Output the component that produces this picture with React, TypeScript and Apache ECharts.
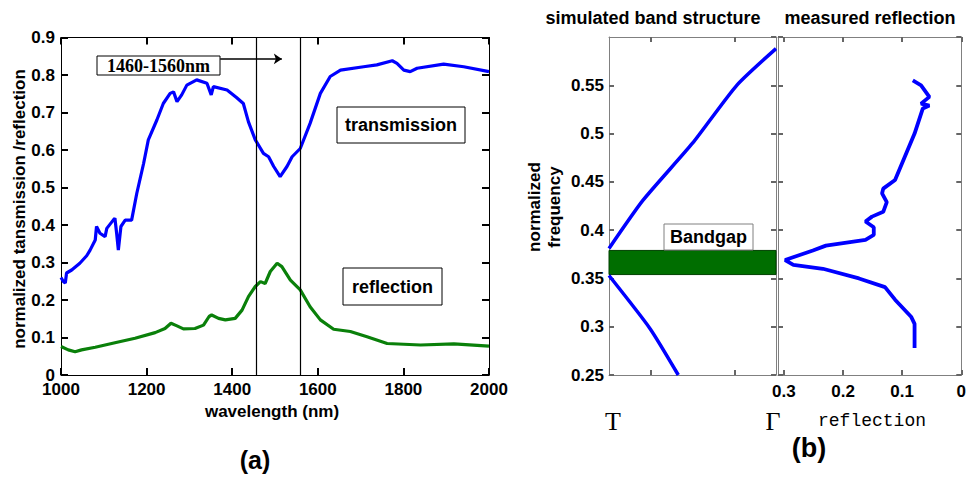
import React, { useEffect, useRef } from "react";
import * as echarts from "echarts";

// ---------- Panel (a): spectra ----------
const wlT = [1000, 1005, 1010, 1013, 1025, 1044, 1060, 1068, 1080, 1083, 1091, 1103, 1107, 1122, 1126, 1130, 1134, 1140, 1150, 1165, 1177, 1193, 1204, 1224, 1239, 1255, 1263, 1271, 1282, 1294, 1317, 1341, 1351, 1356, 1388, 1410, 1426, 1438, 1454, 1473, 1485, 1497, 1512, 1528, 1540, 1559, 1582, 1606, 1629, 1653, 1707, 1738, 1774, 1785, 1801, 1816, 1832, 1894, 1941, 2000];
const transmission = [0.26, 0.25, 0.245, 0.272, 0.28, 0.298, 0.318, 0.333, 0.36, 0.396, 0.378, 0.369, 0.391, 0.413, 0.418, 0.378, 0.333, 0.396, 0.413, 0.413, 0.484, 0.564, 0.627, 0.68, 0.724, 0.751, 0.755, 0.729, 0.747, 0.773, 0.787, 0.778, 0.747, 0.769, 0.76, 0.74, 0.724, 0.675, 0.627, 0.591, 0.582, 0.556, 0.529, 0.556, 0.582, 0.604, 0.671, 0.751, 0.796, 0.813, 0.822, 0.827, 0.838, 0.831, 0.813, 0.809, 0.818, 0.829, 0.822, 0.809];

const wlR = [1000, 1017, 1033, 1048, 1080, 1126, 1173, 1220, 1243, 1257, 1271, 1286, 1313, 1333, 1346, 1352, 1368, 1384, 1407, 1423, 1438, 1454, 1466, 1477, 1489, 1505, 1516, 1536, 1559, 1582, 1606, 1637, 1676, 1715, 1762, 1840, 1918, 2000];
const reflectionA = [0.076, 0.067, 0.062, 0.067, 0.074, 0.086, 0.098, 0.113, 0.124, 0.138, 0.131, 0.123, 0.124, 0.133, 0.156, 0.16, 0.151, 0.147, 0.151, 0.173, 0.209, 0.236, 0.249, 0.244, 0.276, 0.298, 0.289, 0.253, 0.227, 0.182, 0.147, 0.122, 0.116, 0.102, 0.084, 0.08, 0.083, 0.077];

const bandEdges = [1457, 1560];
const arrowFrom = [1372, 0.843];
const arrowTo = [1516, 0.843];

// ---------- Panel (b): band structure ----------
const upperK = [0, 0.204, 0.5, 0.765, 1];
const upperF = [0.381, 0.431, 0.49, 0.55, 0.588];
const lowerK = [0, 0.246, 0.415];
const lowerF = [0.353, 0.298, 0.25];
const gapLow = 0.354;
const gapHigh = 0.379;
const bandTicks = [0.25, 0.75];

// ---------- Panel (b): measured reflection ----------
const measRefl = [0.082, 0.068, 0.054, 0.068, 0.054, 0.065, 0.079, 0.0955, 0.112, 0.132, 0.134, 0.126, 0.132, 0.151, 0.162, 0.148, 0.148, 0.162, 0.229, 0.251, 0.298, 0.284, 0.234, 0.173, 0.129, 0.112, 0.0845, 0.079, 0.079];
const measFreq = [0.555, 0.55, 0.538, 0.531, 0.529, 0.526, 0.5, 0.476, 0.452, 0.443, 0.438, 0.429, 0.419, 0.414, 0.409, 0.403, 0.395, 0.39, 0.384, 0.379, 0.369, 0.364, 0.36, 0.35, 0.341, 0.328, 0.31, 0.303, 0.278];
const reflTicks = [0, 0.1, 0.2, 0.3];

const SANS = "'Liberation Sans', Arial, sans-serif";
const SERIF = "'Liberation Serif', 'Times New Roman', serif";
const BLUE = "#0000ff";
const GREEN = "#0a800a";

function zip(a: number[], b: number[]) {
  return a.map((v, i) => [v, b[i]]);
}

function mkAxis(o: any) {
  const color = o.color || "#000";
  const axis: any = {
    type: "value",
    gridIndex: o.grid,
    min: o.min,
    max: o.max,
    axisLine: { show: true, onZero: false, lineStyle: { color, width: 1 } },
    axisTick: {
      show: true,
      inside: true,
      length: o.tickLen || 7,
      lineStyle: { color: o.tickColor || color, width: 2 },
    },
    axisLabel: { show: false },
    splitLine: { show: false },
  };
  if (o.position) axis.position = o.position;
  if (o.inverse) axis.inverse = true;
  if (o.interval !== undefined) axis.interval = o.interval;
  if (o.tickValues) axis.axisTick.customValues = o.tickValues;
  if (o.labels) {
    axis.axisLabel = {
      show: true,
      fontFamily: SANS,
      fontWeight: "bold",
      fontSize: 17,
      color: "#000",
      margin: o.margin ?? 6,
      showMaxLabel: o.showMax ?? true,
      formatter: (v: number) => String(Math.round(v * 1000) / 1000),
    };
    if (o.labelValues) axis.axisLabel.customValues = o.labelValues;
  }
  return axis;
}

function box(x: number, y: number, w: number, h: number, text: string, font: string, stroke = "#000") {
  return [
    { type: "rect", shape: { x, y, width: w, height: h }, style: { fill: "#fff", stroke, lineWidth: 1 }, z: 10 },
    {
      type: "text",
      x: x + w / 2,
      y: y + h / 2,
      style: { text, font, fill: "#000", align: "center", verticalAlign: "middle" },
      z: 11,
    },
  ];
}

function label(x: number, y: number, text: string, font: string, rotation = 0) {
  return {
    type: "text",
    x,
    y,
    rotation,
    style: { text, font, fill: "#000", align: "center", verticalAlign: "middle" },
    z: 11,
  };
}

export default function App() {
  const ref = useRef<HTMLDivElement>(null);
  useEffect(() => {
    if (!ref.current) return;
    const chart = echarts.init(ref.current, undefined, { renderer: "svg" });
    const option: any = {
      animation: false,
      backgroundColor: "#fff",
      grid: [
        { left: 61, top: 37.5, width: 428, height: 337.5 },
        { left: 609, top: 37, width: 167, height: 338 },
        { left: 778, top: 37, width: 186, height: 338 },
      ],
      xAxis: [
        mkAxis({ grid: 0, min: 1000, max: 2000, interval: 200, labels: true, margin: 6 }),
        mkAxis({ grid: 0, position: "top", min: 1000, max: 2000, interval: 200 }),
        mkAxis({ grid: 1, min: 0, max: 1, color: "#808080", tickColor: "#666", tickLen: 5, tickValues: bandTicks }),
        mkAxis({ grid: 1, position: "top", min: 0, max: 1, color: "#808080", tickColor: "#666", tickLen: 5, tickValues: bandTicks }),
        mkAxis({ grid: 2, min: 0, max: 0.31, interval: 0.1, inverse: true, color: "#808080", tickColor: "#666", tickLen: 5, labels: true, margin: 8, tickValues: reflTicks, labelValues: reflTicks }),
        mkAxis({ grid: 2, position: "top", min: 0, max: 0.31, interval: 0.1, inverse: true, color: "#808080", tickColor: "#666", tickLen: 5, tickValues: reflTicks }),
      ],
      yAxis: [
        mkAxis({ grid: 0, min: 0, max: 0.9, interval: 0.1, labels: true, margin: 6 }),
        mkAxis({ grid: 0, position: "right", min: 0, max: 0.9, interval: 0.1 }),
        mkAxis({ grid: 1, min: 0.25, max: 0.6, interval: 0.05, color: "#808080", tickColor: "#666", tickLen: 5, labels: true, margin: 5, showMax: false }),
        mkAxis({ grid: 1, position: "right", min: 0.25, max: 0.6, interval: 0.05, color: "#808080", tickColor: "#666", tickLen: 5 }),
        mkAxis({ grid: 2, min: 0.25, max: 0.6, interval: 0.05, color: "#808080", tickColor: "#666", tickLen: 5 }),
        mkAxis({ grid: 2, position: "right", min: 0.25, max: 0.6, interval: 0.05, color: "#808080", tickColor: "#666", tickLen: 5 }),
      ],
      series: [
        {
          name: "transmission",
          type: "line",
          xAxisIndex: 0,
          yAxisIndex: 0,
          data: zip(wlT, transmission),
          showSymbol: false,
          lineStyle: { color: BLUE, width: 3.2 },
          itemStyle: { color: BLUE },
          markLine: {
            silent: true,
            symbol: ["none", "none"],
            label: { show: false },
            lineStyle: { color: "#000", width: 1.2, type: "solid" },
            data: bandEdges.map((x) => ({ xAxis: x })),
          },
        },
        {
          name: "reflection",
          type: "line",
          xAxisIndex: 0,
          yAxisIndex: 0,
          data: zip(wlR, reflectionA),
          showSymbol: false,
          lineStyle: { color: GREEN, width: 3.2 },
          itemStyle: { color: GREEN },
          markLine: {
            silent: true,
            label: { show: false },
            lineStyle: { color: "#000", width: 1.5, type: "solid" },
            symbolSize: 8,
            data: [[{ coord: arrowFrom, symbol: "none" }, { coord: arrowTo, symbol: "arrow" }]],
          },
        },
        {
          name: "upper band",
          type: "line",
          xAxisIndex: 2,
          yAxisIndex: 2,
          data: zip(upperK, upperF),
          showSymbol: false,
          smooth: 0.2,
          lineStyle: { color: BLUE, width: 3.5 },
          markArea: {
            silent: true,
            itemStyle: { color: "#006e00", borderColor: "#003f00", borderWidth: 1 },
            data: [[{ xAxis: 0, yAxis: gapLow }, { xAxis: 1, yAxis: gapHigh }]],
          },
        },
        {
          name: "lower band",
          type: "line",
          xAxisIndex: 2,
          yAxisIndex: 2,
          data: zip(lowerK, lowerF),
          showSymbol: false,
          smooth: 0.2,
          lineStyle: { color: BLUE, width: 3.5 },
        },
        {
          name: "measured reflection",
          type: "line",
          xAxisIndex: 4,
          yAxisIndex: 4,
          data: zip(measRefl, measFreq),
          showSymbol: false,
          lineStyle: { color: BLUE, width: 3.8 },
        },
      ],
      graphic: [
        ...box(97, 56, 123, 19, "1460-1560nm", `bold 18px ${SERIF}`),
        ...box(337, 107, 128, 36, "transmission", `bold 18px ${SANS}`),
        ...box(343, 268, 99, 37, "reflection", `bold 18px ${SANS}`),
        ...box(664, 224, 89, 26, "Bandgap", `bold 18px ${SANS}`, "#808080"),
        label(19, 209, "normalized tansmission /reflection", `bold 17px ${SANS}`, Math.PI / 2),
        label(272, 411, "wavelength (nm)", `bold 17px ${SANS}`),
        label(255, 460, "(a)", `bold 25px ${SANS}`),
        label(653, 18, "simulated band structure", `bold 18px ${SANS}`),
        label(870, 18, "measured reflection", `bold 18px ${SANS}`),
        label(534, 207, "normalized", `bold 17px ${SANS}`, Math.PI / 2),
        label(554, 207, "frequency", `bold 17px ${SANS}`, Math.PI / 2),
        label(613, 421, "T", `26px ${SERIF}`),
        label(773, 421, "Γ", `26px ${SERIF}`),
        label(872, 421, "reflection", `18px 'Liberation Mono', monospace`),
        label(809, 448, "(b)", `bold 27px ${SANS}`),
      ],
    };
    chart.setOption(option);
    return () => chart.dispose();
  }, []);
  return <div ref={ref} style={{ position: "absolute", left: 0, top: 0, width: 969, height: 478 }} />;
}
